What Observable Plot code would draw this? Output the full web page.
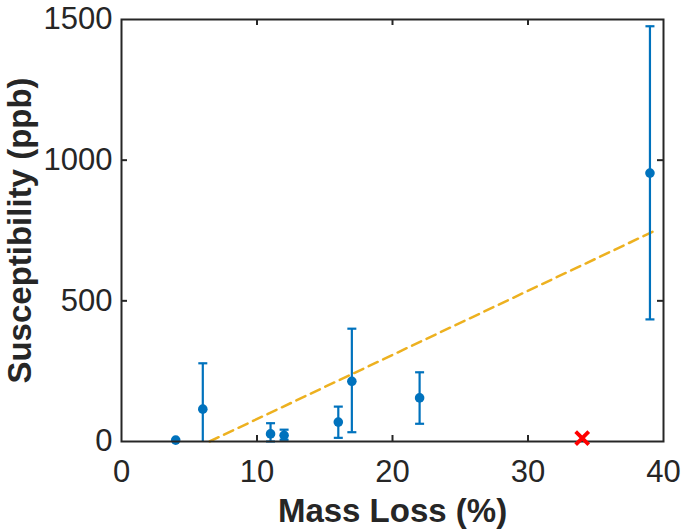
<!DOCTYPE html>
<html>
<head>
<meta charset="utf-8">
<script src="https://cdn.jsdelivr.net/npm/d3@7"></script>
<script src="https://cdn.jsdelivr.net/npm/@observablehq/plot@0.6"></script>
<style>
  html, body { margin: 0; padding: 0; background: #fff; }
  #chart svg { display: block; }
</style>
</head>
<body>
<div id="chart"></div>
<script>
// Measured samples
const massLoss = [4, 6, 11, 12, 16, 17, 22, 39];
const suscept  = [5, 115, 27, 22, 69, 214, 155, 954];
const errLow   = [null, -40, 0, 6, 13, 33, 63, 434];
const errHigh  = [null, 278, 65, 42, 124, 401, 246, 1476];

// Excluded sample (red cross)
const outlierX = [34];
const outlierY = [12];

// Linear fit (dashed)
const fitX = [6.5, 39.4];
const fitY = [0, 750];

// Axis ticks
const xTicks = [0, 10, 20, 30, 40];
const yTicks = [0, 500, 1000, 1500];
const xInnerTicks = [10, 20, 30];
const yInnerTicks = [500, 1000];

const samples = massLoss.map((x, i) => ({x, y: suscept[i], lo: errLow[i], hi: errHigh[i]}));
const bars = samples.filter(d => d.lo != null);
const outliers = outlierX.map((x, i) => ({x, y: outlierY[i]}));
const fit = fitX.map((x, i) => ({x, y: fitY[i]}));

const blue = "#0072BD";
const dark = "#262626";

const capSymbol = {
  draw(ctx, size) {
    const r = Math.sqrt(size / Math.PI);
    ctx.moveTo(-r, 0);
    ctx.lineTo(r, 0);
  }
};

const W = 685, H = 531;
const mL = 121, mR = 22, mT = 19, mB = 90;
const innerH = H - mT - mB;
const innerW = W - mL - mR;
const tickLen = 6;

const chart = Plot.plot({
  width: W,
  height: H,
  marginLeft: mL,
  marginRight: mR,
  marginTop: mT,
  marginBottom: mB,
  style: {fontFamily: "'Liberation Sans', Arial, Helvetica, sans-serif", fontSize: "31px", color: dark, background: "#fff"},
  x: {domain: [0, 40]},
  y: {domain: [0, 1500]},
  marks: [
    Plot.axisX(xTicks, {anchor: "bottom", tickSize: 0, tickPadding: 18, fontSize: 31, fill: dark, tickFormat: d3.format("d"),
      label: "Mass Loss (%)", labelAnchor: "center", labelArrow: "none", labelOffset: 80}),
    Plot.axisY(yTicks, {anchor: "left", tickSize: 0, tickPadding: 9, fontSize: 31, fill: dark, tickFormat: d3.format("d"),
      label: "Susceptibility (ppb)", labelAnchor: "center", labelArrow: "none", labelOffset: 114}),
    // inward ticks
    Plot.tickX(xInnerTicks, {x: d => d, stroke: dark, strokeWidth: 2, insetTop: innerH - tickLen}),
    Plot.tickX(xInnerTicks, {x: d => d, stroke: dark, strokeWidth: 2, insetBottom: innerH - tickLen}),
    Plot.tickY(yInnerTicks, {y: d => d, stroke: dark, strokeWidth: 2, insetLeft: innerW - tickLen}),
    Plot.tickY(yInnerTicks, {y: d => d, stroke: dark, strokeWidth: 2, insetRight: innerW - tickLen}),
    // fit line
    Plot.line(fit, {x: "x", y: "y", stroke: "#EDB120", strokeWidth: 2.5, strokeDasharray: "10,6"}),
    // error bars
    Plot.ruleX(bars, {x: "x", y1: "lo", y2: "hi", stroke: blue, strokeWidth: 2.2, clip: true}),
    Plot.dot(bars.filter(d => d.lo >= 0), {x: "x", y: "lo", symbol: capSymbol, r: 4.5, stroke: blue, strokeWidth: 2.2}),
    Plot.dot(bars, {x: "x", y: "hi", symbol: capSymbol, r: 4.5, stroke: blue, strokeWidth: 2.2}),
    Plot.dot(samples, {x: "x", y: "y", r: 4.8, fill: blue, stroke: "none"}),
    Plot.frame({stroke: dark, strokeWidth: 2}),
    Plot.dot(outliers, {x: "x", y: "y", symbol: "times", r: 6, stroke: "#FF0000", strokeWidth: 3.8})
  ]
});

// bold, larger axis labels
chart.querySelectorAll("[aria-label='x-axis label'] text, [aria-label='y-axis label'] text").forEach(t => {
  t.setAttribute("font-weight", "bold");
  t.setAttribute("font-size", "33");
});
document.getElementById("chart").appendChild(chart);
</script>
</body>
</html>
